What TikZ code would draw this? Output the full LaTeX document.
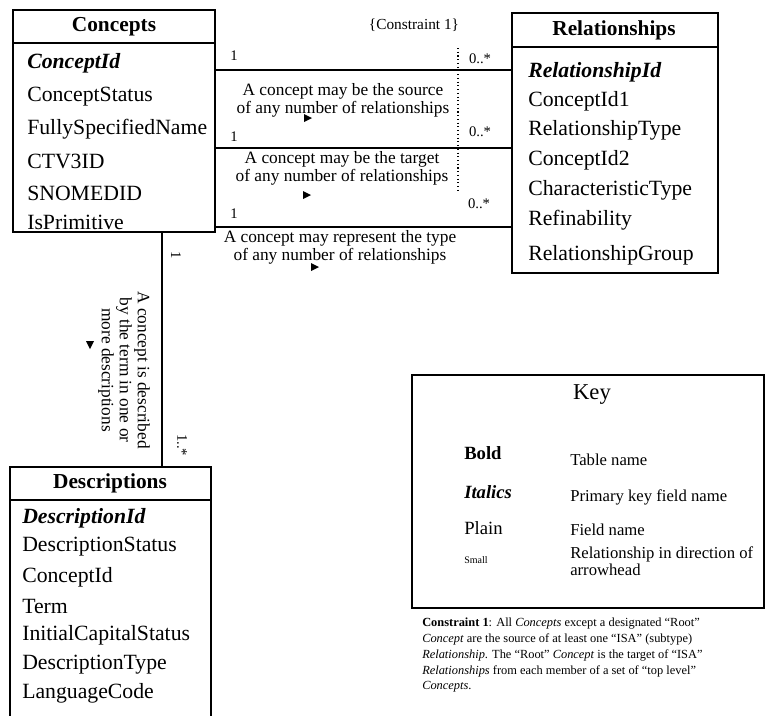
\documentclass[tikz,border=0pt]{standalone}
\usepackage{fontspec}
\setmainfont{Liberation Serif}
\usetikzlibrary{fit}
\begin{document}
\begin{tikzpicture}[x=0.75pt,y=-0.75pt,
  tbl/.style={draw, line width=1.1pt, inner sep=0pt},
  sep/.style={line width=1.1pt},
  field/.style={anchor=west, inner sep=0pt, font=\fontsize{16.3}{18}\selectfont},
  pkey/.style={anchor=west, inner sep=0pt, font=\fontsize{16.3}{18}\selectfont\bfseries\itshape},
  ttl/.style={inner sep=0pt, font=\fontsize{16}{18}\selectfont\bfseries},
  conn/.style={line width=1pt},
  lbl/.style={inner sep=0pt, align=center, font=\fontsize{13}{13.5}\selectfont},
  mult/.style={inner sep=0pt, font=\fontsize{11}{11}\selectfont},
  tri/.style={fill=black},
  keyl/.style={anchor=west, inner sep=0pt, font=\fontsize{14}{14}\selectfont},
  keyr/.style={anchor=west, inner sep=0pt, align=left, font=\fontsize{12.5}{11}\selectfont},
]
\useasboundingbox (0,0) rectangle (765,715);

% ---------------- Concepts ----------------
\node[tbl, fit={(13,10)(215,232)}] (concepts) {};
\draw[sep] (13,43) -- (215,43);
\node[ttl] (ctitle) at (114,27) {Concepts};
\node[pkey]  (c1) at (27,63)  {ConceptId};
\node[field] (c2) at (27,97)  {ConceptStatus};
\node[field] (c3) at (27,129) {FullySpecifiedName};
\node[field] (c4) at (27,161) {CTV3ID};
\node[field] (c5) at (27,193) {SNOMEDID};
\node[field] (c6) at (27,222) {IsPrimitive};

% ---------------- Relationships ----------------
\node[tbl, fit={(512,13)(718,273)}] (rels) {};
\draw[sep] (512,47) -- (718,47);
\node[ttl] (rtitle) at (614,30) {Relationships};
\node[pkey]  (r1) at (528,72)  {RelationshipId};
\node[field] (r2) at (528,101) {ConceptId1};
\node[field] (r3) at (528,130) {RelationshipType};
\node[field] (r4) at (528,160) {ConceptId2};
\node[field] (r5) at (528,190) {CharacteristicType};
\node[field] (r6) at (528,220) {Refinability};
\node[field] (r7) at (528,255) {RelationshipGroup};

% ---------------- Descriptions ----------------
\coordinate (dTL) at (10,467);
\coordinate (dTR) at (211,467);
\node[inner sep=0pt, fit={(10,467)(211,716)}] (descs) {};
\draw[sep] (10,716) -- (dTL) -- (dTR) -- (211,716);
\draw[sep] (10,500) -- (211,500);
\node[ttl] (dtitle) at (110,483) {Descriptions};
\node[pkey]  (d1) at (22,518) {DescriptionId};
\node[field] (d2) at (22,547) {DescriptionStatus};
\node[field] (d3) at (22,577) {ConceptId};
\node[field] (d4) at (22,606) {Term};
\node[field] (d5) at (22,635) {InitialCapitalStatus};
\node[field] (d6) at (22,665) {DescriptionType};
\node[field] (d7) at (22,693) {LanguageCode};

% ---------------- connectors ----------------
\draw[conn] (concepts.east |- 0,70)  -- (rels.west |- 0,70);
\draw[conn] (concepts.east |- 0,148) -- (rels.west |- 0,148);
\draw[conn] (concepts.east |- 0,227) -- (rels.west |- 0,227);
\draw[conn] (concepts.south -| 162,0) -- (descs.north -| 162,0);

\draw[dotted, line width=0.8pt] (458,48) -- (458,190);
\node[inner sep=0pt, font=\fontsize{11.5}{12}\selectfont] (cons) at (414,25) {\{Constraint 1\}};

\node[mult] (m1a) at (234,56)  {1};
\node[mult] (m2a) at (234,137) {1};
\node[mult] (m3a) at (234,214) {1};
\node[mult] (m1b) at (480,59)  {0..*};
\node[mult] (m2b) at (480,132) {0..*};
\node[mult] (m3b) at (479,204) {0..*};

\node[lbl] (l1) at (343,100) {A concept may be the source\\of any number of relationships};
\node[lbl] (l2) at (342,168) {A concept may be the target\\of any number of relationships};
\node[lbl] (l3) at (340,247) {A concept may represent the type\\of any number of relationships};
\fill[tri] (304,114) -- (312,118) -- (304,122) -- cycle;
\fill[tri] (303,191) -- (311,195) -- (303,199) -- cycle;
\fill[tri] (311,263) -- (319,267) -- (311,271) -- cycle;

\node[mult, rotate=-90] (m4a) at (176,255) {1};
\node[mult, rotate=-90] (m4b) at (182,445) {1..*};
\node[lbl, rotate=-90] (l4) at (124,370) {A concept is described\\by the term in one or\\more descriptions};
\fill[tri] (86,341) -- (94,341) -- (90,349) -- cycle;

% ---------------- Key ----------------
\node[draw, line width=1.1pt, inner sep=0pt, fit={(412,375)(764,608)}] (key) {};
\node[inner sep=0pt, font=\fontsize{17}{17}\selectfont] (keyt) at (592,395) {Key};
\node[keyl, font=\fontsize{14}{14}\selectfont\bfseries] (k1) at (464,453) {Bold};
\node[keyr] (k1b) at (570,460) {Table name};
\node[keyl, font=\fontsize{14}{14}\selectfont\bfseries\itshape] (k2) at (464,492) {Italics};
\node[keyr] (k2b) at (570,497) {Primary key field name};
\node[keyl] (k3) at (464,528) {Plain};
\node[keyr] (k3b) at (570,530) {Field name};
\node[keyl, font=\fontsize{7.5}{8}\selectfont] (k4) at (464,560) {Small};
\node[keyr] (k4b) at (570,561) {Relationship in direction of\\arrowhead};

% ---------------- constraint note ----------------
\node[anchor=north west, inner sep=0pt, align=left, font=\fontsize{9.3}{11.8}\selectfont] (note) at (422,618)
{\textbf{Constraint 1}: All \textit{Concepts} except a designated “Root”\\
\textit{Concept} are the source of at least one “ISA” (subtype)\\
\textit{Relationship}. The “Root” \textit{Concept} is the target of “ISA”\\
\textit{Relationships} from each member of a set of “top level”\\
\textit{Concepts}.};
\end{tikzpicture}
\end{document}
